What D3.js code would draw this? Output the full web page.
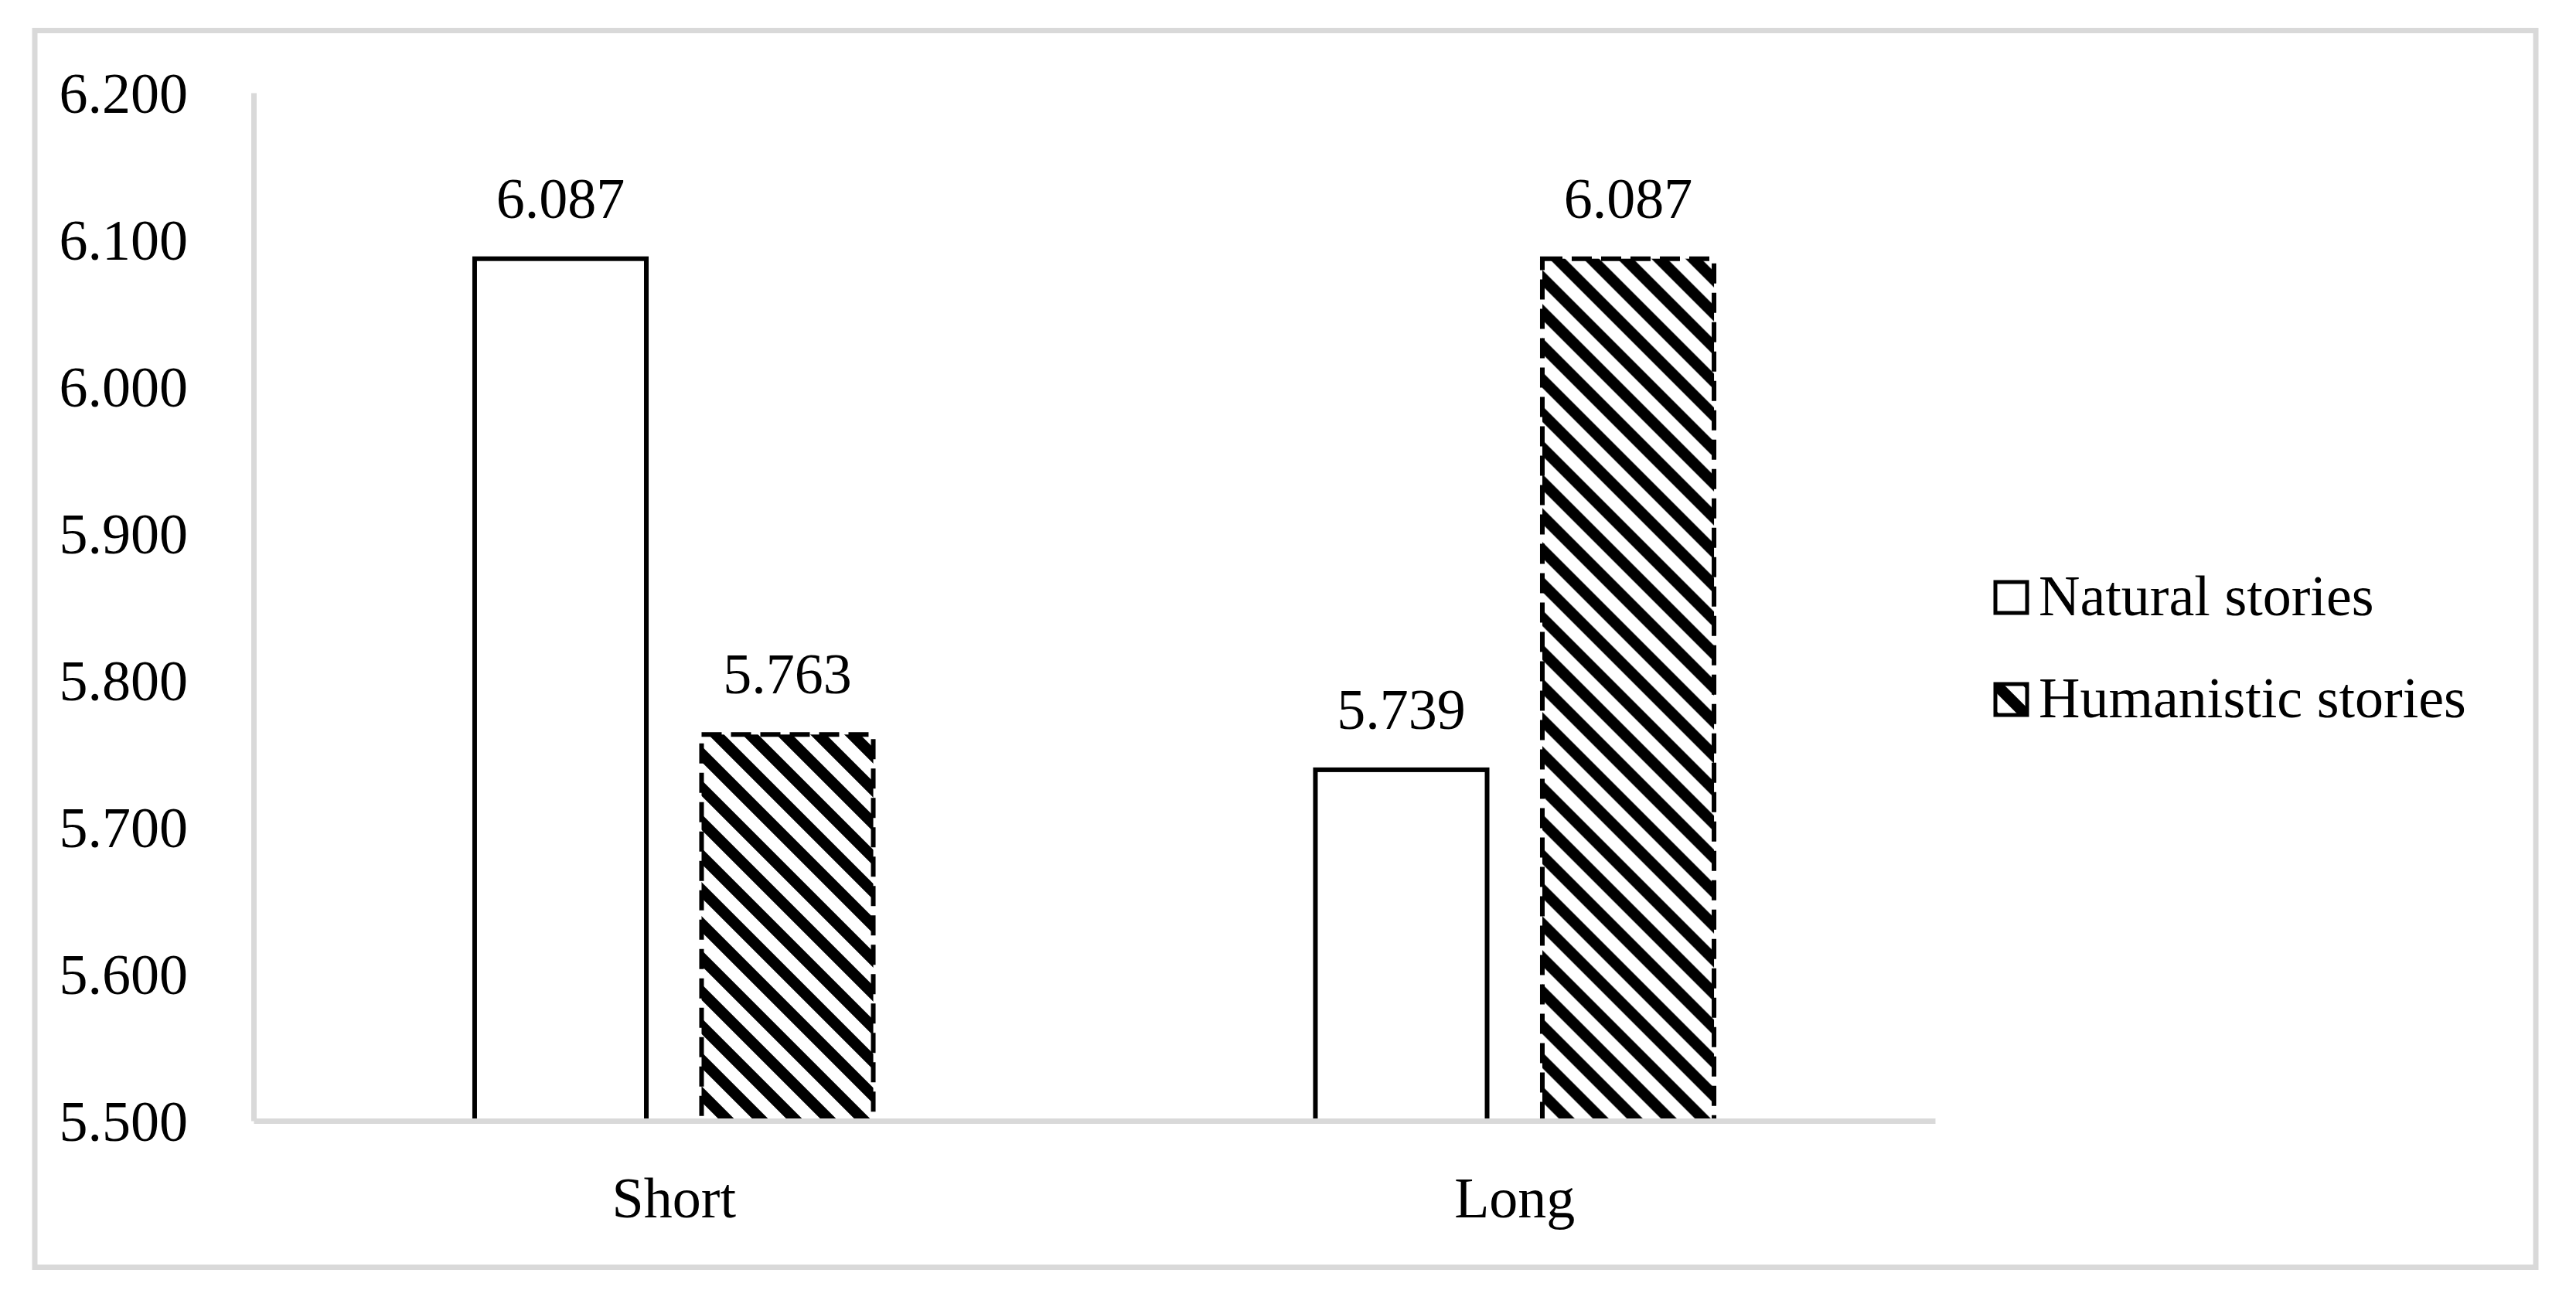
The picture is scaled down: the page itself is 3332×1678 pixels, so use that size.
<!DOCTYPE html>
<meta charset="utf-8">
<style>
body { margin: 0; background: #fff; }
text { font-family: "Liberation Serif", "Times New Roman", serif; fill: #000; }
</style>
<body>
<script src="https://d3js.org/d3.v7.min.js"></script>
<script>

// data
var categories = ["Short", "Long"];
var seriesNames = ["Natural stories", "Humanistic stories"];
var naturalValues = [6.087, 5.739];
var humanisticValues = [5.763, 6.087];
var yTicks = [5.5, 5.6, 5.7, 5.8, 5.9, 6.0, 6.1, 6.2];

var W = 3332, H = 1678;
var fontSize = 74;
var grey = "#d9d9d9";

var svg = d3.select("body").append("svg")
    .attr("width", W)
    .attr("height", H);

// diagonal hatch like Excel's "wide downward diagonal"
var defs = svg.append("defs");
defs.append("pattern")
    .attr("id", "hatch")
    .attr("patternUnits", "userSpaceOnUse")
    .attr("width", 44)
    .attr("height", 44)
  .append("path")
    .attr("d", "M-22,-22L66,66M0,-44L88,44M-44,0L44,88")
    .attr("stroke", "#000")
    .attr("stroke-width", 14.5);

// outer chart border
svg.append("rect")
    .attr("x", 45).attr("y", 39.5)
    .attr("width", 3235).attr("height", 1600)
    .attr("fill", "none")
    .attr("stroke", grey)
    .attr("stroke-width", 7);

// scales
var x0 = d3.scaleBand().domain(categories).range([328, 2503]);
var x1 = d3.scaleBand().domain(seriesNames)
    .range([0, x0.bandwidth()])
    .paddingInner(0.223)
    .paddingOuter(0.964);
var y = d3.scaleLinear().domain([5.5, 6.2]).range([1450, 120]);

// y axis
var yAxis = svg.append("g")
    .attr("transform", "translate(328,0)")
    .call(d3.axisLeft(y).tickValues(yTicks).tickFormat(d3.format(".3f"))
        .tickSize(0).tickPadding(85));
yAxis.select(".domain").attr("stroke", grey).attr("stroke-width", 7);
yAxis.selectAll("text")
    .style("font-family", "Liberation Serif, Times New Roman, serif")
    .style("font-size", fontSize + "px")
    .attr("dy", "0.34em");

// bars
var rows = categories.map(function(c, i) {
  return [
    {cat: c, key: seriesNames[0], value: naturalValues[i]},
    {cat: c, key: seriesNames[1], value: humanisticValues[i]}
  ];
});

var groups = svg.selectAll(".grp")
    .data(rows)
  .enter().append("g")
    .attr("class", "grp")
    .attr("transform", function(d) { return "translate(" + x0(d[0].cat) + ",0)"; });

groups.selectAll("rect")
    .data(function(d) { return d; })
  .enter().append("rect")
    .attr("x", function(d) { return x1(d.key) + 3; })
    .attr("y", function(d) { return y(d.value); })
    .attr("width", x1.bandwidth() - 6)
    .attr("height", function(d) { return y(5.5) - y(d.value); })
    .attr("fill", function(d) { return d.key == seriesNames[0] ? "#fff" : "url(#hatch)"; })
    .attr("stroke", "#000")
    .attr("stroke-width", 6)
    .attr("stroke-dasharray", function(d) { return d.key == seriesNames[0] ? null : "26,12"; });

// value labels
groups.selectAll(".val")
    .data(function(d) { return d; })
  .enter().append("text")
    .attr("class", "val")
    .attr("x", function(d) { return x1(d.key) + x1.bandwidth() / 2; })
    .attr("y", function(d) { return y(d.value) - 53; })
    .attr("text-anchor", "middle")
    .style("font-size", fontSize + "px")
    .text(function(d) { return d3.format(".3f")(d.value); });

// x axis (drawn after bars so the grey line sits on top of their feet)
var xAxis = svg.append("g")
    .attr("transform", "translate(0,1450)")
    .call(d3.axisBottom(x0).tickSize(0));
xAxis.select(".domain").attr("stroke", grey).attr("stroke-width", 7);
xAxis.selectAll("text")
    .style("font-family", "Liberation Serif, Times New Roman, serif")
    .style("font-size", fontSize + "px")
    .attr("y", 125)
    .attr("dy", 0);

// legend
var legend = svg.selectAll(".leg")
    .data(seriesNames)
  .enter().append("g")
    .attr("class", "leg")
    .attr("transform", function(d, i) { return "translate(2581," + (753 + i * 132) + ")"; });

legend.append("rect")
    .attr("width", 41)
    .attr("height", 40)
    .attr("fill", function(d, i) { return i == 0 ? "#fff" : "url(#hatch)"; })
    .attr("stroke", "#000")
    .attr("stroke-width", 5);

legend.append("text")
    .attr("x", 56)
    .attr("y", 43)
    .style("font-size", fontSize + "px")
    .text(function(d) { return d; });

</script>
</body>
